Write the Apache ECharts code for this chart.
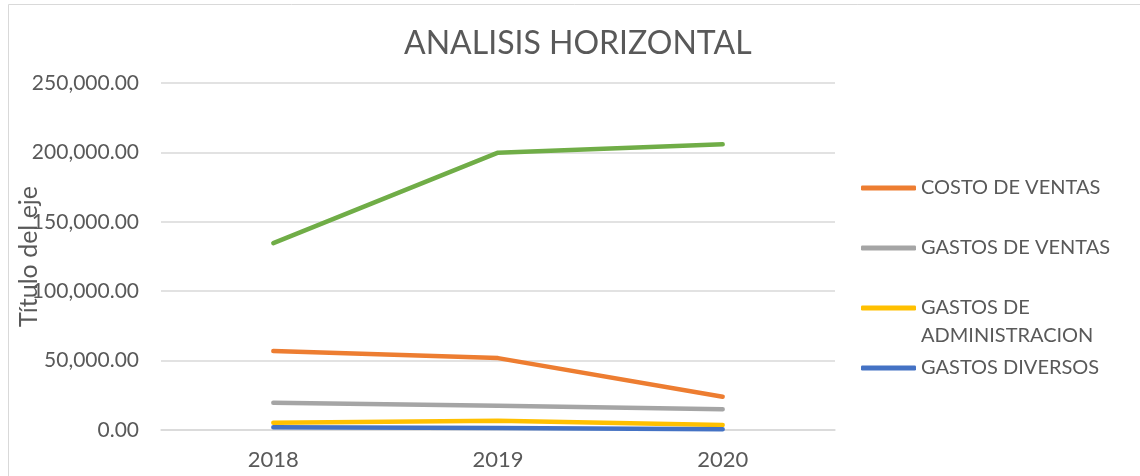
<!DOCTYPE html>
<html>
<head>
<meta charset="utf-8">
<script src="https://cdn.jsdelivr.net/npm/echarts@6/dist/echarts.min.js"></script>
<style>html,body{margin:0;padding:0;background:#fff}#c{width:1140px;height:476px}</style>
</head>
<body>
<div id="c"></div>
<script>
const categories = ['2018', '2019', '2020'];
const costoVentas = [56900, 51800, 24000];
const gastosVentas = [19700, 17500, 14900];
const gastosAdmin = [5300, 6700, 3600];
const gastosDiversos = [1900, 1400, 500];
const ventas = [134600, 199800, 205900];
const yTicks = { min: 0, max: 250000, interval: 50000 };

const FONT = 'Lato';
const TXT = '#595959';
const chart = echarts.init(document.getElementById('c'));

function fmt(v) {
  return Number(v).toLocaleString('en-US', { minimumFractionDigits: 2, maximumFractionDigits: 2 });
}
function lineSeries(name, data, color) {
  return {
    name: name, type: 'line', data: data, showSymbol: false, symbol: 'none',
    lineStyle: { color: color, width: 4.5, cap: 'round', join: 'round' },
    itemStyle: { color: color }, emphasis: { disabled: true }
  };
}
function legendItem(name, centerY, formatter) {
  return {
    data: [name], left: 861, top: centerY - 12, padding: 0, icon: 'roundRect',
    itemWidth: 55, itemHeight: 5, selectedMode: false,
    formatter: formatter || '{name}',
    textStyle: { fontFamily: FONT, fontSize: 20, color: TXT, lineHeight: 24 }
  };
}

chart.setOption({
  animation: false,
  backgroundColor: '#fff',
  title: {
    text: 'ANALISIS HORIZONTAL', left: 404, top: 28, padding: 0,
    textStyle: { fontFamily: FONT, fontSize: 32, fontWeight: 'normal', color: TXT }
  },
  graphic: [
    { type: 'rect', shape: { x: 8.5, y: 4.5, width: 1150, height: 500 }, style: { fill: 'none', stroke: '#d9d9d9', lineWidth: 1 }, silent: true },
    { type: 'text', left: 921, top: 326, style: { text: 'ADMINISTRACION', font: '20px ' + FONT, fill: TXT } }
  ],
  legend: [
    legendItem('COSTO DE VENTAS', 188),
    legendItem('GASTOS DE VENTAS', 248),
    legendItem('GASTOS DE ADMINISTRACION', 308, function () { return 'GASTOS DE'; }),
    legendItem('GASTOS DIVERSOS', 368)
  ],
  grid: { left: 161, right: 305, top: 83, bottom: 46, containLabel: false, outerBoundsMode: 'none' },
  xAxis: {
    type: 'category', data: categories, boundaryGap: true,
    axisLine: { lineStyle: { color: '#d9d9d9', width: 1.5 } },
    axisTick: { show: false },
    axisLabel: { fontFamily: FONT, fontSize: 22, color: TXT, margin: 19 }
  },
  yAxis: {
    type: 'value', min: yTicks.min, max: yTicks.max, interval: yTicks.interval,
    name: 'Título del eje', nameLocation: 'middle', nameGap: 120, nameRotate: 90,
    nameMoveOverlap: false,
    nameTextStyle: { fontFamily: FONT, fontSize: 25, color: TXT },
    axisLine: { show: false }, axisTick: { show: false },
    splitLine: { lineStyle: { color: '#d9d9d9', width: 1.5 } },
    axisLabel: { fontFamily: FONT, fontSize: 21, color: TXT, margin: 22, formatter: fmt }
  },
  series: [
    lineSeries('COSTO DE VENTAS', costoVentas, '#ED7D31'),
    lineSeries('GASTOS DE VENTAS', gastosVentas, '#A5A5A5'),
    lineSeries('GASTOS DE ADMINISTRACION', gastosAdmin, '#FFC000'),
    lineSeries('GASTOS DIVERSOS', gastosDiversos, '#4472C4'),
    lineSeries('VENTAS', ventas, '#70AD47')
  ]
});
</script>
</body>
</html>
